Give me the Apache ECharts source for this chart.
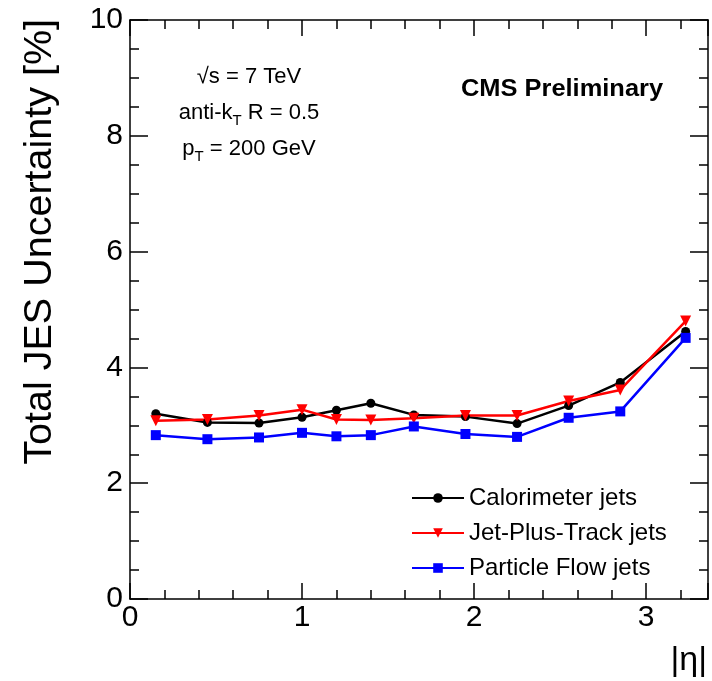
<!DOCTYPE html>
<html>
<head>
<meta charset="utf-8">
<script src="https://cdn.jsdelivr.net/npm/echarts@6/dist/echarts.min.js"></script>
<style>
  html, body { margin: 0; padding: 0; background: #fff; }
  #chart { width: 712px; height: 681px; }
</style>
</head>
<body>
<div id="chart"></div>
<script>
// |eta| bin centres
const etaValues = [0.15, 0.45, 0.75, 1.0, 1.2, 1.4, 1.65, 1.95, 2.25, 2.55, 2.85, 3.23];
const caloValues = [3.20, 3.05, 3.04, 3.14, 3.26, 3.38, 3.18, 3.15, 3.03, 3.34, 3.74, 4.62];
const jptValues = [3.08, 3.10, 3.17, 3.27, 3.10, 3.09, 3.12, 3.17, 3.17, 3.42, 3.61, 4.80];
const pfValues = [2.83, 2.76, 2.79, 2.87, 2.81, 2.83, 2.98, 2.85, 2.80, 3.13, 3.24, 4.51];
const seriesNames = ['Calorimeter jets', 'Jet-Plus-Track jets', 'Particle Flow jets'];

const font = 'Liberation Sans, Arial, sans-serif';

const pairs = (ys) => etaValues.map((x, i) => [x, ys[i]]);

const chart = echarts.init(document.getElementById('chart'));

// ROOT style frame: ticks inside on all four sides, labels only bottom/left
const frameAxis = (type, pos, show) => ({
  type: 'value',
  position: pos,
  min: 0,
  max: type === 'x' ? 3.36 : 10,
  interval: type === 'x' ? 1 : 2,
  axisLine: { show: true, onZero: false, lineStyle: { color: '#000', width: 1.5 } },
  axisTick: { show: true, inside: true, length: type === 'x' ? 16 : 18, lineStyle: { color: '#000', width: 1.5 } },
  minorTick: { show: true, splitNumber: type === 'x' ? 5 : 4, length: 9, lineStyle: { color: '#000', width: 1.5 } },
  splitLine: { show: false },
  axisLabel: {
    show: show,
    color: '#000',
    fontFamily: font,
    fontSize: 30,
    margin: type === 'x' ? 4 : 7,
    formatter: (v) => (Math.abs(v - Math.round(v)) < 1e-6 ? String(Math.round(v)) : ''),
  },
});

const subStyle = { fontFamily: font, fontSize: 15, fill: '#000', padding: [15, 0, 0, 0] };

const option = {
  backgroundColor: '#fff',
  animation: false,
  grid: { left: 130, right: 4, top: 20, bottom: 82 },
  xAxis: [frameAxis('x', 'bottom', true), frameAxis('x', 'top', false)],
  yAxis: [frameAxis('y', 'left', true), frameAxis('y', 'right', false)],
  legend: {
    orient: 'vertical',
    left: 406,
    top: 481,
    itemWidth: 52,
    itemHeight: 12,
    itemGap: 11,
    textStyle: { color: '#000', fontFamily: font, fontSize: 24 },
    data: seriesNames,
  },
  series: [
    {
      name: seriesNames[0],
      type: 'line',
      data: pairs(caloValues),
      symbol: 'circle',
      symbolSize: 9,
      itemStyle: { color: '#000' },
      lineStyle: { color: '#000', width: 2.5 },
    },
    {
      name: seriesNames[1],
      type: 'line',
      data: pairs(jptValues),
      symbol: 'triangle',
      symbolRotate: 180,
      symbolSize: 11,
      itemStyle: { color: '#ff0000' },
      lineStyle: { color: '#ff0000', width: 2.5 },
    },
    {
      name: seriesNames[2],
      type: 'line',
      data: pairs(pfValues),
      symbol: 'rect',
      symbolSize: 10,
      itemStyle: { color: '#0000ff' },
      lineStyle: { color: '#0000ff', width: 2.5 },
    },
  ],
  graphic: [
    {
      type: 'text',
      x: 40,
      y: 19,
      rotation: Math.PI / 2,
      style: {
        text: 'Total JES Uncertainty [%]',
        fontFamily: font,
        fontSize: 39.5,
        fill: '#000',
        align: 'right',
        verticalAlign: 'middle',
      },
    },
    {
      type: 'text',
      x: 707,
      y: 661,
      style: {
        text: '|η|',
        fontFamily: font,
        fontSize: 34,
        fill: '#000',
        align: 'right',
        verticalAlign: 'middle',
      },
    },
    {
      type: 'text',
      x: 562,
      y: 89,
      scaleX: 1.06,
      style: {
        text: 'CMS Preliminary',
        fontFamily: font,
        fontSize: 24,
        fontWeight: 'bold',
        fill: '#000',
        align: 'center',
        verticalAlign: 'middle',
      },
    },
    {
      type: 'text',
      x: 249,
      y: 77,
      style: {
        text: '√s = 7 TeV',
        fontFamily: font,
        fontSize: 22,
        fill: '#000',
        align: 'center',
        verticalAlign: 'middle',
      },
    },
    {
      type: 'text',
      x: 249,
      y: 113,
      style: {
        text: 'anti-k{sub|T} R = 0.5',
        fontFamily: font,
        fontSize: 22,
        fill: '#000',
        align: 'center',
        verticalAlign: 'middle',
        rich: { sub: subStyle },
      },
    },
    {
      type: 'text',
      x: 249,
      y: 149,
      style: {
        text: 'p{sub|T} = 200 GeV',
        fontFamily: font,
        fontSize: 22,
        fill: '#000',
        align: 'center',
        verticalAlign: 'middle',
        rich: { sub: subStyle },
      },
    },
  ],
};

chart.setOption(option);
</script>
</body>
</html>
